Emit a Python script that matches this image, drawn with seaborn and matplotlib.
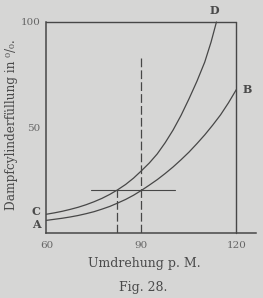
import matplotlib
matplotlib.use("Agg")
import matplotlib.pyplot as plt
import seaborn as sns
import pandas as pd

# Data
rpm_ab = [60, 62.5, 65, 67.5, 70, 72.5, 75, 77.5, 80, 82.5, 85, 87.5, 90, 92.5, 95,
          97.5, 100, 102.5, 105, 107.5, 110, 112.5, 115, 117.5, 120]
fill_ab = [6.0, 6.5, 7.0, 7.6, 8.3, 9.15, 10.1, 11.3, 12.6, 14.2, 15.9, 17.9, 20.2, 22.7, 25.3,
           28.2, 31.3, 34.7, 38.3, 42.3, 46.5, 51.1, 56.0, 61.7, 68.0]
rpm_cd = [60, 62.5, 65, 67.5, 70, 72.5, 75, 77.5, 80, 82.5, 85, 87.5, 90, 92.5, 95,
          97.5, 100, 102.5, 105, 107.5, 110, 112, 113.7]
fill_cd = [8.9, 9.55, 10.3, 11.2, 12.2, 13.4, 14.8, 16.4, 18.3, 20.5, 23.0, 26.0, 29.5, 33.2, 37.5,
           42.8, 48.8, 55.7, 63.5, 71.8, 81.0, 90.5, 100.0]

xticks = [60, 90, 120]
xtick_labels = ["60", "90", "120"]
yticks = [50, 100]
ytick_labels = ["50", "100"]

# guide lines
h_line_y = 20.2
h_line_x = [74.0, 100.7]
v_dash_90 = [90, 0, 82.8]
v_dash_82 = [82.3, 0, 20.2]

BG = "#d6d6d5"
INK = "#474747"
TXT = "#4a4a4a"

sns.set_style("white")
plt.rcParams["font.family"] = ["DejaVu Serif"]

fig = plt.figure(figsize=(2.63, 2.98), dpi=100, facecolor=BG)
ax = fig.add_axes([0.1768, 0.2181, 0.9734 - 0.1768, 0.9262 - 0.2181])
ax.set_facecolor(BG)

df = pd.concat([
    pd.DataFrame({"rpm": rpm_ab, "fill": fill_ab, "curve": "AB"}),
    pd.DataFrame({"rpm": rpm_cd, "fill": fill_cd, "curve": "CD"}),
])
sns.lineplot(data=df, x="rpm", y="fill", hue="curve", palette={"AB": INK, "CD": INK},
             lw=0.9, legend=False, ax=ax, sort=False, clip_on=False)

# box parts
ax.plot([60, 120], [100, 100], color=INK, lw=1.0, clip_on=False)
ax.plot([120, 120], [0, 100], color=INK, lw=1.0, clip_on=False)

# guides
ax.plot(h_line_x, [h_line_y, h_line_y], color=INK, lw=0.8)
ax.plot([v_dash_90[0]] * 2, v_dash_90[1:], color=INK, lw=0.9, dashes=(7, 2.5))
ax.plot([v_dash_82[0]] * 2, v_dash_82[1:], color=INK, lw=0.9, dashes=(7, 2.5))

ax.set_xlim(60, 126.2)
ax.set_ylim(0, 100)
for s in ["top", "right"]:
    ax.spines[s].set_visible(False)
for s in ["left", "bottom"]:
    ax.spines[s].set_color(INK)
    ax.spines[s].set_linewidth(1.1)

ax.set_xticks(xticks)
ax.set_xticklabels(xtick_labels)
ax.set_yticks(yticks)
ax.set_yticklabels(ytick_labels)
ax.tick_params(axis="x", length=0, pad=6, labelsize=7.5, labelcolor="#666666")
ax.tick_params(axis="y", length=2.5, width=0.8, color=INK, pad=2, labelsize=7.5, labelcolor="#666666")

ax.set_xlabel("Umdrehung p. M.", fontsize=9, color=TXT)
ax.xaxis.set_label_coords(0.465, -(263 - 233) / 211, transform=ax.transAxes)
ax.xaxis.label.set_va("center")
ax.set_ylabel("Dampfcylinderfüllung in ⁰/₀.", fontsize=8.7, color=TXT)
ax.yaxis.set_label_coords(-(46.5 - 12) / 209.5, (233 - 125) / 211, transform=ax.transAxes)
ax.yaxis.label.set_va("center")

# curve letters
bold = dict(fontsize=8, fontweight="bold", color=TXT, ha="center", va="center")
ax.text(56.8, 10.4, "C", clip_on=False, **bold)
ax.text(56.8, 3.8, "A", clip_on=False, **bold)
ax.text(113.0, 105.5, "D", clip_on=False, **bold)
ax.text(123.4, 68.0, "B", clip_on=False, **bold)

fig.text(143 / 263, 1 - 287 / 298, "Fig. 28.", fontsize=9, color=TXT, ha="center", va="center")

fig.savefig("out.png", dpi=100, facecolor=BG)
